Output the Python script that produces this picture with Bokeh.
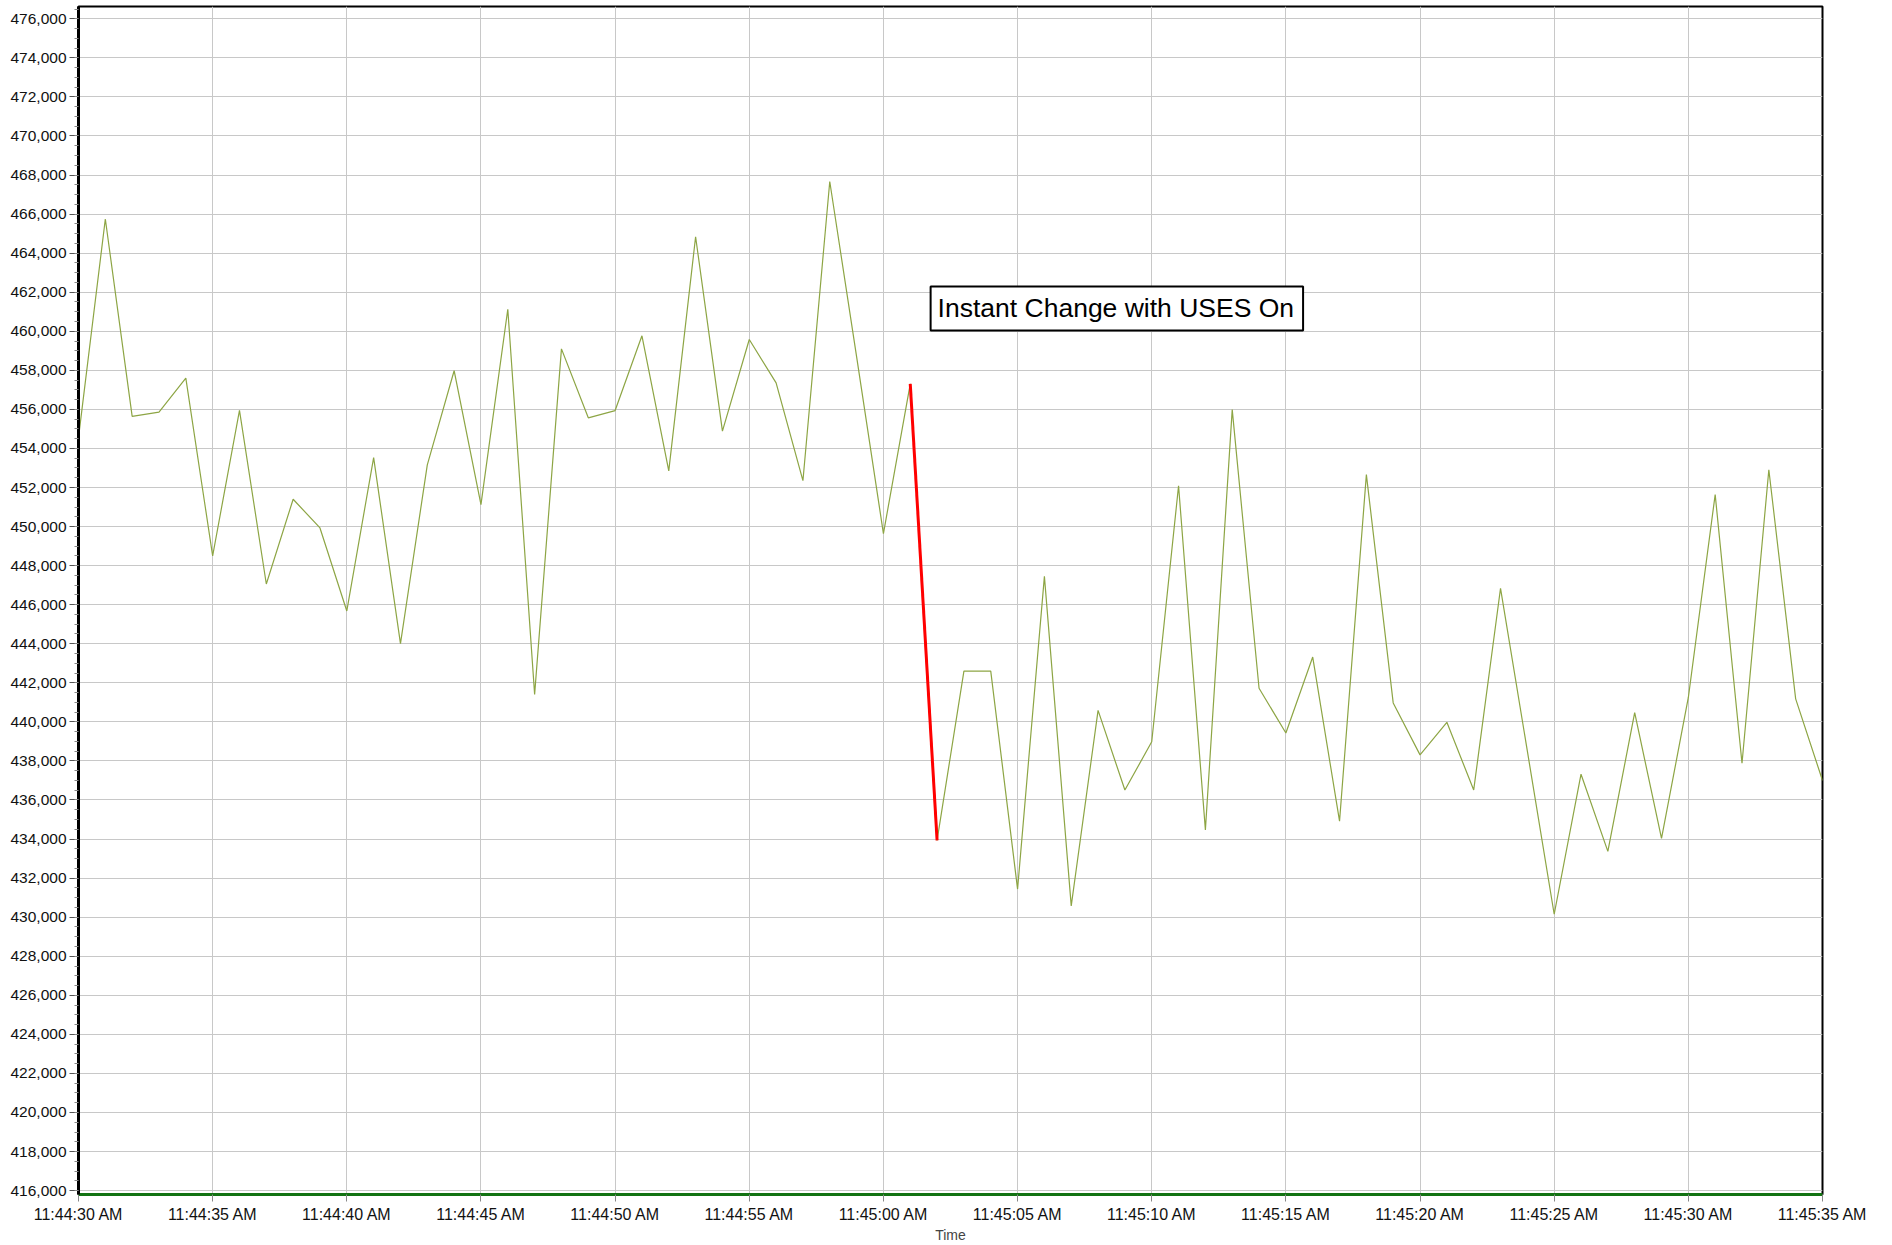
import pandas as pd
from bokeh.plotting import figure
from bokeh.models import (DatetimeTickFormatter, SingleIntervalTicker, Label,
                          NumeralTickFormatter, Range1d)
from bokeh.embed import file_html
from bokeh.resources import INLINE

# ---- data ----
start_time = "2024-01-01 11:44:30"
end_time = "2024-01-01 11:45:35"
offsets_s = list(range(66))
values = [
    454550, 465750, 455640, 455860, 457600, 448500, 455950, 447060, 451400, 449930,
    445680, 453530, 444010, 453160, 457980, 451120, 461130, 441410, 459100, 455570,
    455940, 459770, 452850, 464840, 454890, 459580, 457360, 452350, 467670, 458700,
    449640, 457310, 433930, 442600, 442600, 431440, 447450, 430580, 440590, 436510,
    438980, 452090, 434470, 455990, 441720, 439430, 443320, 434920, 452660, 440970,
    438310, 439980, 436510, 446840, 438500, 430150, 437320, 433370, 440470, 434030,
    441250, 451640, 437880, 452910, 441180, 437000,
]
change_idx = [31, 32]           # the instant change segment (red)
y_min, y_max = 415800, 476630
annotation_text = "Instant Change with USES On"
annotation_at = ("2024-01-01 11:45:08.7", 461170)

t0 = pd.Timestamp(start_time)
times = [t0 + pd.Timedelta(seconds=s) for s in offsets_s]

p = figure(
    x_axis_type="datetime",
    frame_width=1744, frame_height=1188,
    x_range=Range1d(pd.Timestamp(start_time), pd.Timestamp(end_time)),
    y_range=Range1d(y_min, y_max),
    output_backend="svg", toolbar_location=None,
    min_border_left=78, min_border_right=50, min_border_top=6, min_border_bottom=0,
    background_fill_color="white", border_fill_color="white",
)

p.outline_line_color = "black"
p.outline_line_width = 2

# grids
for g in (p.xgrid, p.ygrid):
    g.grid_line_color = "#c8c8c8"
    g.grid_line_width = 1

# x axis
p.xaxis.ticker = SingleIntervalTicker(interval=5000, num_minor_ticks=0)
fmt = "%I:%M:%S %p"
p.xaxis.formatter = DatetimeTickFormatter(milliseconds=fmt, seconds=fmt, minsec=fmt,
                                          minutes=fmt, hourmin=fmt, hours=fmt)
p.xaxis.axis_label = "Time"
p.xaxis.axis_label_text_font = "Liberation Sans"
p.xaxis.axis_label_text_font_style = "normal"
p.xaxis.axis_label_text_font_size = "14px"
p.xaxis.axis_label_standoff = 1
p.xaxis.major_label_text_font = "Liberation Sans"
p.xaxis.major_label_text_font_size = "16px"
p.xaxis.major_label_text_color = "#111111"
p.xaxis.major_label_standoff = 4
p.xaxis.major_tick_out = 7
p.xaxis.major_tick_in = 0
p.xaxis.major_tick_line_color = "#888888"
p.xaxis.axis_line_color = "#137313"
p.xaxis.axis_line_width = 3

# y axis
p.yaxis.ticker = SingleIntervalTicker(interval=2000, num_minor_ticks=4)
p.yaxis.formatter = NumeralTickFormatter(format="0,0")
p.yaxis.major_label_text_font = "Liberation Sans"
p.yaxis.major_label_text_font_size = "15.5px"
p.yaxis.major_label_text_color = "#111111"
p.yaxis.major_label_standoff = 3
p.yaxis.major_tick_out = 9
p.yaxis.major_tick_in = 0
p.yaxis.minor_tick_out = 4
p.yaxis.minor_tick_in = 0
p.yaxis.major_tick_line_color = "#555555"
p.yaxis.minor_tick_line_color = "#888888"
p.yaxis.axis_line_color = "black"
p.yaxis.axis_line_width = 3

# series
p.line(times, values, line_color="#8DA544", line_width=1.2)
p.line([times[i] for i in change_idx], [values[i] for i in change_idx],
       line_color="#ff0000", line_width=3)

# annotation
lab = Label(x=pd.Timestamp(annotation_at[0]), y=annotation_at[1], text=annotation_text,
            text_align="center", text_baseline="middle",
            text_font="Liberation Sans", text_font_size="26.5px", text_color="black",
            background_fill_color="white", border_line_color="black",
            border_line_width=2, padding=(7, 9, 7, 7))
p.add_layout(lab)

open("out.html", "w").write(file_html(p, INLINE))
